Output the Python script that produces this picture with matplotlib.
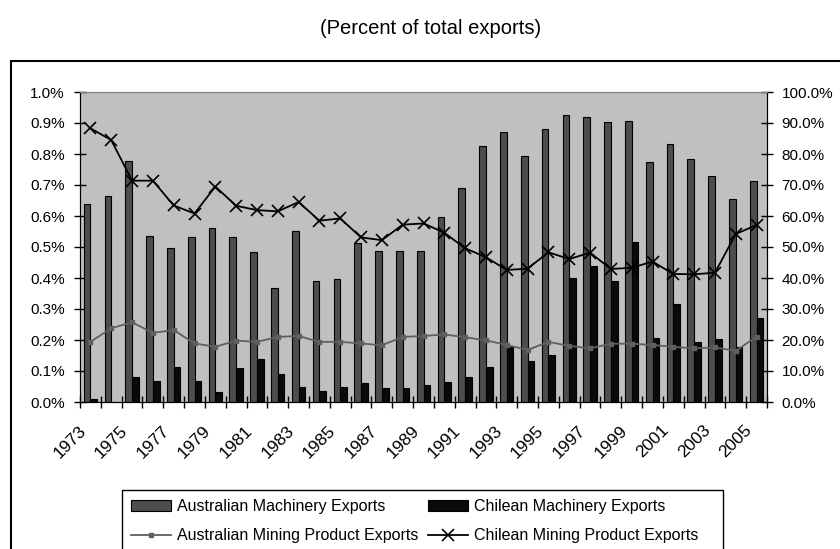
import matplotlib
matplotlib.use("Agg")
import matplotlib.pyplot as plt
import numpy as np
from matplotlib.patches import Rectangle
from matplotlib.ticker import FuncFormatter, FixedLocator, NullFormatter
import matplotlib.transforms as mtransforms

plt.rcParams['font.family'] = ['Liberation Sans', 'DejaVu Sans']

years = list(range(1973, 2006))
aus_mach = [0.640, 0.665, 0.778, 0.537, 0.497, 0.532, 0.560, 0.532, 0.483, 0.369,
            0.552, 0.389, 0.398, 0.513, 0.487, 0.487, 0.487, 0.597, 0.690, 0.827,
            0.872, 0.794, 0.882, 0.927, 0.920, 0.902, 0.906, 0.773, 0.832, 0.783,
            0.729, 0.655, 0.713]
chile_mach = [0.011, 0.0, 0.080, 0.069, 0.114, 0.069, 0.031, 0.109, 0.139, 0.089,
              0.049, 0.035, 0.049, 0.060, 0.044, 0.044, 0.055, 0.063, 0.080, 0.114,
              0.176, 0.133, 0.153, 0.399, 0.439, 0.389, 0.517, 0.207, 0.316, 0.192,
              0.202, 0.176, 0.272]
aus_mining = [19.4, 23.8, 25.7, 22.3, 23.2, 18.9, 17.8, 19.8, 19.4, 21.0,
              21.3, 19.4, 19.4, 18.9, 18.3, 21.0, 21.3, 21.8, 20.9, 19.9,
              18.4, 16.8, 19.4, 18.1, 17.3, 18.8, 18.8, 18.4, 17.8, 17.3,
              17.6, 16.5, 21.1]
chile_mining = [88.3, 84.5, 71.4, 71.4, 63.4, 60.8, 69.5, 63.3, 61.9, 61.5,
                64.5, 58.5, 59.2, 53.1, 52.2, 57.2, 57.6, 54.6, 49.6, 46.7,
                42.6, 43.0, 48.3, 46.1, 48.2, 42.9, 43.3, 45.3, 41.3, 41.2,
                41.7, 54.2, 57.1]
title = "(Percent of total exports)"
labels = ["Australian Machinery Exports", "Chilean Machinery Exports",
          "Australian Mining Product Exports", "Chilean Mining Product Exports"]

W, H = 840, 549
fig = plt.figure(figsize=(W / 100, H / 100), dpi=100)

# outer frame
fig.patches.append(Rectangle((11 / W, -0.05), 1.2, 1 - 61 / H + 0.05,
                             transform=fig.transFigure, fill=False,
                             edgecolor='black', linewidth=1.5, zorder=0))

fig.text(431 / W, 1 - 29 / H, title, ha='center', va='center', fontsize=14.5)

left, right, top, bottom = 80, 767, 92, 402
ax = fig.add_axes([left / W, 1 - bottom / H, (right - left) / W, (bottom - top) / H])
ax.set_facecolor('#c0c0c0')
x = np.arange(len(years))
bw = 0.32
b1 = ax.bar(x - bw / 2, aus_mach, bw, color='#4d4d4d', edgecolor='black', linewidth=0.8, zorder=2)
b2 = ax.bar(x + bw / 2, chile_mach, bw, color='#0a0a0a', edgecolor='black', linewidth=0.8, zorder=2)
ax.set_xlim(-0.5, len(years) - 0.5)
ax.set_ylim(0, 1.0)
ax.set_yticks(np.arange(0, 1.01, 0.1))
ax.yaxis.set_major_formatter(FuncFormatter(lambda v, p: f"{v:.1f}%"))
ax.tick_params(axis='y', direction='inout', length=8, labelsize=11, width=1, pad=7)
ax.xaxis.set_major_locator(FixedLocator(np.arange(-0.5, len(years), 1.0)))
ax.xaxis.set_major_formatter(NullFormatter())
ax.tick_params(axis='x', which='major', direction='inout', length=8, width=1)
for s in ['left', 'bottom', 'right']:
    ax.spines[s].set_color('black')
ax.spines['top'].set_color('#808080')

# category labels (every other year), rotated 45 degrees
lab_tr = (mtransforms.blended_transform_factory(ax.transData, ax.transAxes)
          + mtransforms.ScaledTranslation(-7 / 100, -26 / 100, fig.dpi_scale_trans))
for i in range(0, len(years), 2):
    ax.text(x[i], 0, str(years[i]), transform=lab_tr, rotation=45,
            ha='right', va='center', rotation_mode='anchor', fontsize=12.5,
            clip_on=False)

ax2 = ax.twinx()
ax2.set_ylim(0, 100)
ax2.set_yticks(np.arange(0, 101, 10))
ax2.yaxis.set_major_formatter(FuncFormatter(lambda v, p: f"{v:.1f}%"))
ax2.tick_params(axis='y', direction='inout', length=8, labelsize=11, width=1, pad=6.5)
l1, = ax2.plot(x, aus_mining, color='#606060', linewidth=1.3, marker='s',
               markersize=3, zorder=3)
l2, = ax2.plot(x, chile_mining, color='black', linewidth=1.3, marker='x',
               markersize=8, markeredgewidth=1.2, zorder=4)
ax2.spines['top'].set_color('#808080')

# legend frame drawn manually, bottom clipped by the figure edge
fig.patches.append(Rectangle((122 / W, -0.05), (723 - 122) / W, 1 - 490 / H + 0.05,
                             transform=fig.transFigure, facecolor='white',
                             edgecolor='black', linewidth=1.0, zorder=1))
leg = fig.legend([b1, l1, b2, l2],
                 [labels[0], labels[2], labels[1], labels[3]],
                 ncol=2, loc='upper left',
                 bbox_to_anchor=(122 / W, 1 - 490 / H),
                 frameon=False, fontsize=11.5,
                 handlelength=2.5, handletextpad=0.4, borderpad=0.55,
                 labelspacing=0.9, columnspacing=0.6, borderaxespad=0)
leg.set_zorder(2)

fig.savefig("out.png", dpi=100)
